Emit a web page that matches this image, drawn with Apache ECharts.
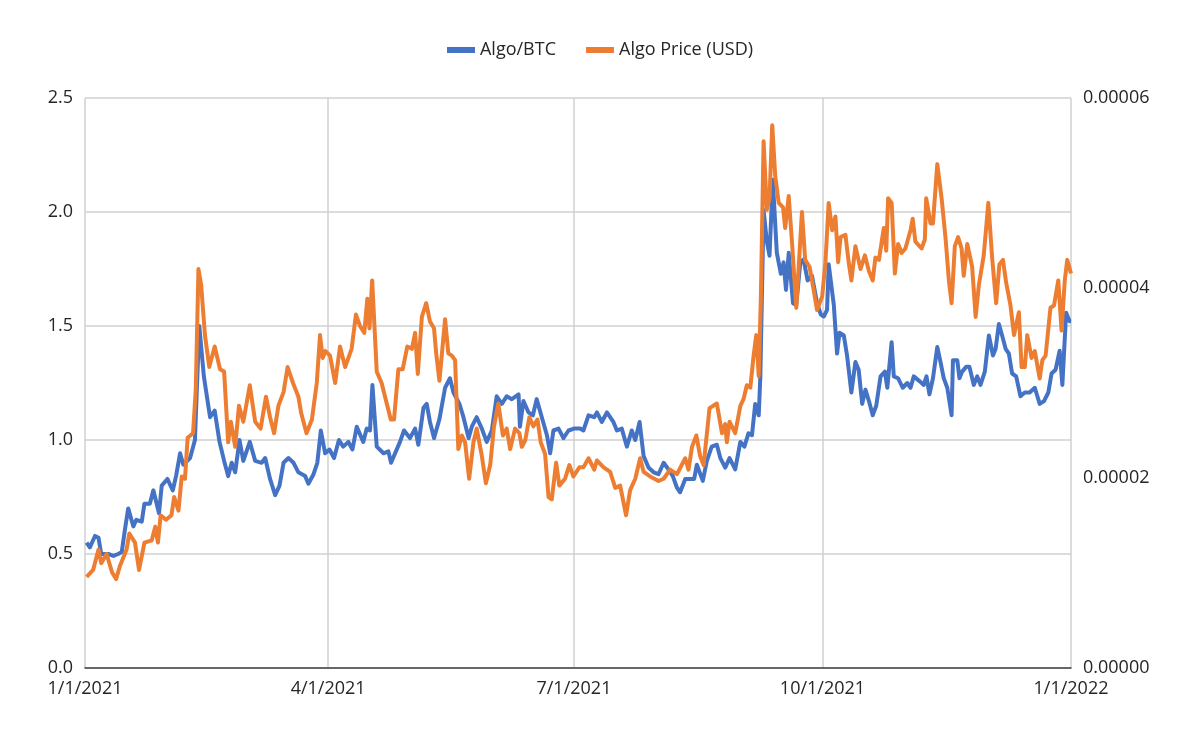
<!DOCTYPE html>
<html>
<head>
<meta charset="utf-8">
<script src="https://cdn.jsdelivr.net/npm/echarts@6/dist/echarts.min.js"></script>
<style>
  html, body { margin: 0; padding: 0; background: #fff; }
  #chart { width: 1200px; height: 742px; }
</style>
</head>
<body>
<div id="chart"></div>
<script>
/* global echarts */
// days counted from 1/1/2021
var tickDays = [0, 90, 181, 273, 365];
var tickLabels = ['1/1/2021', '4/1/2021', '7/1/2021', '10/1/2021', '1/1/2022'];

// Algo/BTC, in units of 0.00001 BTC (right axis)
var btcDays = [0.6,1.8,3.7,5,6,8.6,10.5,12.3,13.6,14.8,16,17.9,19,21,22,24,25.3,27.4,28.4,30.5,32.5,33.7,35.2,36.4,38.9,40.7,42.3,44,46.3,48,49.8,51.5,53,54.3,55.6,57.2,58.6,61,63,65.4,66.7,68.5,70.4,72,73.5,75.3,77.2,79,81.5,82.7,84.6,86,87.3,88.9,90.5,92.2,94,95.6,97.5,99,100.6,103,104.3,105.5,106.4,108,110.5,112.3,113.3,116.6,118.1,120.3,122.2,123.4,125.3,126.5,127.7,129.2,131.2,133.3,135.1,136.4,138.6,140.1,142,143.2,145,146.9,148.7,150.6,152.4,154.3,156.1,158,160.5,161,162.3,164.2,165.8,167.2,169.1,171,172.2,173.4,175.3,177.1,179,181,183.3,184.5,186.4,188.5,189.5,191.3,193.2,195.6,196.9,198.7,200.6,202.4,203.7,205.3,206.8,208.6,210.5,212.3,214.2,216,217.6,219.1,220.3,222.2,224,225.5,226.5,228.7,230.2,232,233.9,235.2,237,238.6,240.7,242.6,244.1,245.6,246.9,248.1,249.4,250,251.2,252.4,253.4,254.6,256.1,257.6,258.6,259.5,260.5,262.1,263.3,264.8,266,267.5,269.1,271,272.4,273.5,274.7,275.3,277.2,278.4,279.3,280.9,282.1,283.7,285.2,286.4,287.7,288.9,290.2,291.6,292.9,294.5,296.1,297,298.6,299.4,301,302.7,304.4,305.6,306.8,308.9,310.5,311.5,312.6,313.9,315.5,316.7,317.9,319.2,320.8,321.3,322.9,323.7,324.7,326.2,327.4,329,330.3,331.5,333.1,334.6,336.1,337.1,338.3,339.5,340.8,342,343.2,344.7,346.3,347.9,349.7,351.6,353.4,355,356.6,357.8,359.3,360.8,361.8,363.2,364.5,365];
var btcVals = [1.32,1.27,1.39,1.37,1.20,1.20,1.18,1.20,1.22,1.46,1.68,1.49,1.56,1.54,1.73,1.73,1.87,1.63,1.92,1.99,1.87,2.02,2.26,2.14,2.21,2.40,3.60,3.07,2.64,2.71,2.38,2.18,2.02,2.16,2.06,2.40,2.18,2.38,2.18,2.16,2.21,1.99,1.82,1.92,2.16,2.21,2.16,2.06,2.02,1.94,2.04,2.16,2.50,2.26,2.30,2.21,2.40,2.33,2.38,2.30,2.54,2.38,2.52,2.50,2.98,2.33,2.26,2.28,2.16,2.38,2.50,2.42,2.52,2.35,2.74,2.78,2.59,2.42,2.62,2.95,3.05,2.90,2.78,2.64,2.42,2.54,2.64,2.52,2.38,2.50,2.86,2.78,2.86,2.83,2.88,2.54,2.81,2.69,2.66,2.83,2.64,2.45,2.26,2.50,2.52,2.42,2.50,2.52,2.52,2.50,2.66,2.64,2.69,2.59,2.69,2.59,2.50,2.52,2.33,2.50,2.40,2.59,2.23,2.11,2.06,2.04,2.16,2.09,2.02,1.90,1.85,1.99,1.99,1.99,2.14,1.97,2.18,2.33,2.35,2.21,2.11,2.21,2.09,2.38,2.33,2.47,2.45,2.78,2.66,3.07,4.82,4.49,4.34,5.14,4.37,4.15,4.27,3.98,4.37,3.84,3.82,4.27,4.30,4.08,4.13,3.84,3.72,3.70,3.77,4.25,3.82,3.31,3.53,3.50,3.29,2.90,3.22,3.14,2.78,2.93,2.81,2.66,2.76,3.07,3.12,2.95,3.43,3.07,3.05,2.95,3.00,2.95,3.07,3.02,2.98,3.07,2.88,3.05,3.38,3.22,3.05,2.95,2.66,3.24,3.24,3.05,3.12,3.17,3.17,2.98,3.07,2.98,3.12,3.50,3.29,3.36,3.62,3.50,3.36,3.31,3.10,3.07,2.86,2.90,2.90,2.95,2.78,2.81,2.90,3.10,3.14,3.34,2.98,3.74,3.65,3.65];

// Algo price in USD (left axis)
var usdDays = [0.6,3,5,6,8,10,11.5,13,15.4,16.4,18.5,20,22,24.7,26,27,28,30,32,33,34.6,35.8,37,38,40,41,42,43,44.4,46,48,50,51.5,53,54,55.6,57,58.6,61,63,65,67,68.5,70,71.6,73.5,75,77,79,80,82,84,85.8,87,88,89,90.7,92.6,94.4,96.3,98.7,100.3,101.8,103.4,104.5,105.3,106.3,108,109.8,111.7,113.2,114.4,116,117.6,119.3,121,122.2,123.2,124.7,126.3,127.7,129.2,130,131.2,133.3,134.5,135.8,137,138.2,139.5,140.7,142.2,143.8,145,146.9,148.4,150,151.4,153,154.7,156.1,157.4,159.2,160.8,161.7,163,164.5,166,167.5,168.7,170.3,171.6,172.8,174.4,175.6,177.7,179.3,180.8,183,184.5,186.4,188.5,189.5,192,194.4,196.3,198.1,200.3,201.8,203.7,205.5,206.8,209.2,212.3,214.2,216.6,219.1,222.2,223.4,224.7,226.3,227.7,229,231.2,233.9,235.8,237,237.6,238.6,240.7,242.6,243.8,245,246.3,247.5,248.5,249.4,250.2,251.2,252.4,253.4,254.4,255.5,256.8,258.4,259.2,260.5,261.7,263.3,265.4,266.6,268.2,269.7,271,272.9,274.1,275.3,276.6,277.8,278.8,279.7,281.5,282.7,283.7,285.2,287.1,288.7,290.2,291.6,292.6,293.9,295.7,296.6,297.3,298.6,299.8,301,302.3,303.7,305.6,306.4,307.4,309.7,310.9,311.4,313,313.9,315.5,317.1,318.6,319.8,320.8,322,323.2,324.5,325.3,326.6,328.4,329.7,330.9,332.7,334.4,335.8,337.3,338.5,339.8,341,342.6,343.9,345.7,346.7,347.9,348.8,350.4,351.6,353.4,354.4,355.6,357.4,358.7,360.3,361.5,362.7,363.6,365];
var usdVals = [0.40,0.43,0.52,0.46,0.50,0.42,0.39,0.45,0.52,0.59,0.55,0.43,0.55,0.56,0.62,0.55,0.67,0.65,0.67,0.75,0.69,0.84,0.83,1.01,1.03,1.22,1.75,1.68,1.46,1.32,1.41,1.31,1.30,0.99,1.08,0.97,1.15,1.08,1.24,1.08,1.05,1.19,1.10,1.03,1.15,1.21,1.32,1.25,1.19,1.12,1.03,1.09,1.25,1.46,1.36,1.39,1.37,1.25,1.41,1.32,1.40,1.55,1.50,1.47,1.62,1.49,1.70,1.30,1.25,1.16,1.09,1.09,1.31,1.31,1.41,1.40,1.47,1.29,1.54,1.60,1.52,1.49,1.38,1.26,1.53,1.38,1.37,1.35,0.96,1.02,0.99,0.83,0.99,1.05,0.93,0.81,0.89,1.06,1.16,1.02,1.05,0.96,1.05,1.03,0.97,1.00,1.10,1.06,1.09,0.99,0.94,0.75,0.74,0.90,0.80,0.83,0.89,0.84,0.88,0.88,0.92,0.87,0.91,0.88,0.86,0.79,0.80,0.67,0.78,0.83,0.92,0.86,0.84,0.82,0.83,0.87,0.85,0.92,0.87,0.97,1.02,0.93,0.89,1.14,1.16,1.03,1.07,0.99,1.08,1.03,1.15,1.18,1.24,1.23,1.37,1.46,1.28,1.63,2.31,2.01,2.06,2.38,2.16,2.04,2.02,1.93,2.07,1.87,1.58,2.00,1.79,1.76,1.66,1.57,1.63,1.78,2.04,1.92,1.98,1.78,1.89,1.90,1.78,1.70,1.85,1.75,1.81,1.74,1.70,1.80,1.79,1.93,1.83,2.06,2.04,1.73,1.86,1.82,1.84,1.92,1.97,1.87,1.84,1.88,2.06,1.95,1.95,2.21,2.06,1.88,1.70,1.60,1.85,1.89,1.84,1.72,1.86,1.76,1.54,1.68,1.81,2.04,1.80,1.60,1.77,1.79,1.69,1.59,1.46,1.56,1.32,1.32,1.46,1.36,1.39,1.27,1.35,1.37,1.58,1.59,1.70,1.48,1.70,1.79,1.73];

function pairs(days, vals) {
  var out = [];
  for (var i = 0; i < days.length; i++) out.push([days[i], vals[i]]);
  return out;
}

var chart = echarts.init(document.getElementById('chart'));
var font = '"Open Sans", "Noto Sans", sans-serif';
var ink = '#262626';

chart.setOption({
  animation: false,
  textStyle: { fontFamily: font },
  legend: {
    top: 36, left: 'center', itemGap: 30,
    itemWidth: 28, itemHeight: 6, icon: 'rect',
    textStyle: { fontSize: 18, color: ink, fontFamily: font },
    data: ['Algo/BTC', 'Algo Price (USD)']
  },
  grid: { left: 85, right: 129, top: 98, bottom: 74, containLabel: false },
  xAxis: {
    type: 'value', min: 0, max: 365,
    axisLine: { lineStyle: { color: '#404040', width: 1.5 } },
    axisTick: { show: false, customValues: tickDays },
    axisLabel: {
      customValues: tickDays, fontSize: 18, color: ink, margin: 12,
      formatter: function (v) { return tickLabels[tickDays.indexOf(v)]; }
    },
    splitLine: { show: true, lineStyle: { color: '#d0d0d0', width: 1.5 } }
  },
  yAxis: [
    {
      type: 'value', min: 0, max: 2.5, interval: 0.5,
      axisLine: { show: false }, axisTick: { show: false },
      axisLabel: { fontSize: 18, color: ink, margin: 12,
        formatter: function (v) { return v.toFixed(1); } },
      splitLine: { lineStyle: { color: '#d0d0d0', width: 1.5 } }
    },
    {
      type: 'value', min: 0, max: 6, interval: 2,
      axisLine: { show: false }, axisTick: { show: false },
      axisLabel: { fontSize: 18, color: ink, margin: 12,
        formatter: function (v) { return (v / 100000).toFixed(5); } },
      splitLine: { show: false }
    }
  ],
  series: [
    {
      name: 'Algo/BTC', type: 'line', yAxisIndex: 1, showSymbol: false,
      color: '#4472C4', lineStyle: { width: 4, join: 'round' },
      data: pairs(btcDays, btcVals)
    },
    {
      name: 'Algo Price (USD)', type: 'line', yAxisIndex: 0, showSymbol: false,
      color: '#ED7D31', lineStyle: { width: 4, join: 'round' },
      data: pairs(usdDays, usdVals)
    }
  ]
});
</script>
</body>
</html>
